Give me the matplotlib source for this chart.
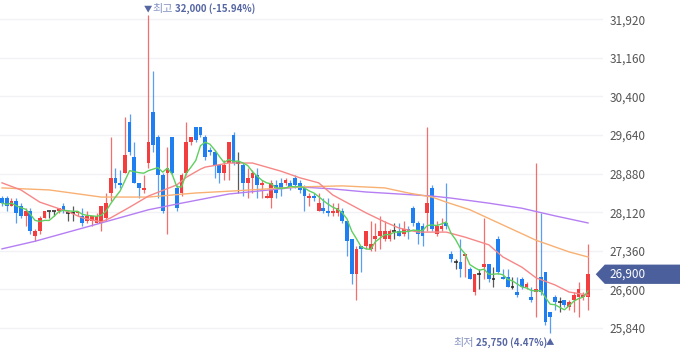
import numpy as np
import pandas as pd
import matplotlib
matplotlib.use('Agg')
import matplotlib.pyplot as plt
import matplotlib.transforms as mtransforms
from matplotlib.patches import Polygon
from matplotlib.ticker import FuncFormatter

plt.rcParams['font.family'] = ['Noto Sans CJK KR', 'DejaVu Sans']

# daily candles (won)
opens = [28400, 28400, 28250, 28350, 28250, 28050, 28150, 27650, 27750, 28000,
         28150, 28150, 28150, 28250, 28100, 28100, 28100, 28050, 27950, 27950,
         27900, 27900, 28000, 28500, 28800, 28700, 28900, 29900, 29200, 28700,
         28550, 29100, 30100, 29600, 28850, 28900, 29600, 28600, 28500, 28900,
         29500, 29800, 29800, 29600, 29350, 29300, 29050, 28900, 29100, 29650,
         29100, 29050, 28700, 28800, 28850, 28650, 28400, 28400, 28650, 28700,
         28700, 28700, 28800, 28700, 28600, 28400, 28450, 28150, 28200, 28150,
         28100, 28100, 28150, 27950, 27600, 26900, 27450, 27450, 27400, 27600,
         27650, 27600, 27600, 27750, 27750, 27700, 27800, 28200, 27900, 27850,
         28100, 28600, 27700, 27800, 27900, 27300, 27150, 27150, 27250, 27000,
         26550, 26900, 27050, 27100, 26800, 27600, 26850, 26850, 26650, 26550,
         26800, 26650, 26450, 26550, 26850, 26950, 26150, 26450, 26350, 26400,
         26250, 26400, 26450, 26450, 26450]
highs = [28450, 28450, 28400, 28400, 28300, 28200, 28200, 27800, 28050, 28150,
         28150, 28150, 28200, 28300, 28150, 28250, 28150, 28200, 28150, 28050,
         28100, 28250, 28500, 29600, 29000, 28950, 30000, 30050, 29500, 28700,
         28850, 32000, 30900, 29650, 28900, 29400, 29600, 28650, 28900, 29900,
         29600, 29800, 29800, 29650, 29400, 29350, 29050, 29150, 29500, 29700,
         29300, 29100, 29000, 28950, 29000, 28750, 28500, 28750, 28750, 28800,
         28800, 28750, 28850, 28750, 28650, 28500, 28500, 28500, 28400, 28400,
         28300, 28300, 28200, 27950, 27600, 27450, 27450, 27750, 27950, 27900,
         28050, 27950, 27800, 27900, 27900, 27950, 27850, 28250, 27950, 27900,
         29800, 28650, 27950, 28000, 28700, 27350, 27200, 27600, 27300, 27050,
         26900, 27000, 28000, 27100, 27050, 27650, 27000, 27000, 26850, 26850,
         26850, 26750, 26650, 29100, 28100, 26950, 26150, 26500, 26450, 26400,
         26400, 26550, 26750, 26550, 27500]
lows = [28250, 28150, 28250, 27900, 28000, 27850, 27700, 27550, 27700, 28000,
        28000, 28050, 28100, 28100, 27950, 27950, 28050, 27850, 27900, 27850,
        27900, 27750, 27950, 28350, 28600, 28600, 28900, 29250, 28700, 28400,
        28500, 29000, 29300, 28400, 28100, 27700, 28850, 28150, 28450, 28850,
        29450, 29500, 29600, 29150, 29250, 28800, 28700, 28750, 28750, 29050,
        28500, 28450, 28400, 28500, 28400, 28400, 28400, 28200, 28400, 28450,
        28650, 28550, 28600, 28500, 28150, 28250, 28350, 28150, 28100, 28050,
        28050, 28050, 27900, 27250, 26700, 26400, 26950, 27400, 27350, 27350,
        27400, 27550, 27550, 27600, 27650, 27650, 27600, 27850, 27500, 27450,
        27750, 27750, 27650, 27750, 27800, 27150, 27000, 26850, 26850, 26800,
        26500, 26600, 26800, 26750, 26650, 26900, 26800, 26650, 26600, 26450,
        26600, 26600, 26350, 26050, 26500, 25900, 25750, 26200, 26150, 26250,
        26200, 26150, 26050, 26400, 26200]
closes = [28300, 28250, 28350, 28100, 28050, 28150, 27750, 27750, 28000, 28150,
          28150, 28150, 28200, 28150, 28100, 28100, 28150, 27900, 28050, 28050,
          28050, 28250, 28300, 28800, 28700, 28650, 29250, 29300, 28700, 28600,
          28600, 29500, 29450, 28850, 28150, 29000, 28900, 28200, 28850, 29500,
          29600, 29550, 29650, 29200, 29300, 29050, 28900, 29050, 29500, 29100,
          29100, 28700, 28800, 28900, 28650, 28700, 28450, 28700, 28500, 28600,
          28750, 28600, 28650, 28550, 28450, 28450, 28400, 28300, 28150, 28100,
          28150, 28200, 27950, 27550, 26900, 27400, 27400, 27750, 27500, 27650,
          27750, 27750, 27750, 27750, 27650, 27800, 27750, 27900, 27700, 27650,
          28300, 27800, 27850, 27850, 27850, 27200, 27150, 27000, 27300, 26800,
          26900, 26900, 27100, 26800, 26800, 26950, 26800, 26650, 26650, 26500,
          26650, 26700, 26400, 26600, 26550, 25950, 26050, 26350, 26350, 26300,
          26350, 26500, 26600, 26500, 26900]

# moving averages read at a few candles
ma20_idx = [0, 4, 8, 14, 17, 21, 23, 27, 31, 37, 39, 42, 43, 48, 53, 56, 59,
            63, 67, 70, 74, 77, 81, 84, 88, 94, 98, 103, 106, 110, 113, 117, 120, 124]
ma20_val = [28700, 28560, 28320, 28130, 28010, 27930, 28010, 28220, 28440, 28660,
            28810, 28970, 29010, 29090, 29090, 29010, 28930, 28800, 28700, 28460,
            28260, 28110, 27930, 27810, 27730, 27730, 27630, 27480, 27240, 27040,
            26830, 26690, 26550, 26490]
ma60_idx = [0, 10, 21, 31, 41, 49, 63, 72, 81, 86, 91, 94, 99, 106, 113, 120, 124]
ma60_val = [28600, 28560, 28420, 28420, 28500, 28540, 28620, 28640, 28600, 28500,
            28420, 28320, 28170, 27870, 27570, 27340, 27240]
ma120_idx = [0, 7, 14, 21, 31, 38, 48, 63, 70, 77, 84, 91, 95, 103, 110, 117, 124]
ma120_val = [27400, 27550, 27730, 27910, 28170, 28300, 28480, 28620, 28580, 28520,
             28480, 28440, 28400, 28300, 28200, 28050, 27910]

y_ticks = [25840, 26600, 27360, 28120, 28880, 29640, 30400, 31160, 31920]
last_price = 26900
high_price, high_pct = 32000, -15.94
low_price, low_pct = 25750, 4.47

RED = '#f23e3e'
BLUE = '#1f7ff0'
DOJI = '#222222'
LABEL = '#5566a3'
LABEL_LIGHT = '#8794c2'

df = pd.DataFrame({'open': opens, 'high': highs, 'low': lows, 'close': closes})
df['ma5'] = df['close'].rolling(5, min_periods=1).mean()
x = np.arange(len(df))

up = (df['close'] > df['open']).values
down = (df['close'] < df['open']).values
flat = (df['close'] == df['open']).values
colors = np.where(up, RED, np.where(down, BLUE, DOJI))

fig = plt.figure(figsize=(6.8, 3.58), dpi=100)
ax = fig.add_axes([0, 0, 603 / 680, 1])

# wicks and bodies
ax.vlines(x, df['low'], df['high'], colors=colors, linewidth=0.9, alpha=0.75, zorder=2)
body_low = df[['open', 'close']].min(axis=1)
body_h = (df['close'] - df['open']).abs()
ax.bar(x[~flat], body_h[~flat], bottom=body_low[~flat], width=0.8,
       color=colors[~flat], linewidth=0, zorder=3)
ax.hlines(df['close'][flat], x[flat] - 0.4, x[flat] + 0.4, colors=DOJI, linewidth=1.1, zorder=3)

# moving averages
ax.plot(ma120_idx, ma120_val, color='#b57ef3', linewidth=1.0, zorder=4)
ax.plot(ma60_idx, ma60_val, color='#f9b073', linewidth=1.0, zorder=4)
ax.plot(ma20_idx, ma20_val, color='#f78787', linewidth=1.0, zorder=4)
ax.plot(x, df['ma5'], color='#5fcf5f', linewidth=1.0, zorder=4)

ax.set_xlim(-0.42, 127.17)
ax.set_ylim(25251, 32300)
ax.set_xticks([])
ax.set_yticks(y_ticks)
ax.yaxis.set_major_formatter(FuncFormatter(lambda v, p: f'{int(v):,}'))
ax.tick_params(axis='y', left=False, right=True, labelleft=False, labelright=True,
               length=0, pad=4.5, labelsize=8.5, labelcolor='#555555')
ax.grid(axis='y', color='#f1f1f6', linewidth=1)
ax.set_axisbelow(True)
for s in ax.spines.values():
    s.set_visible(False)

# last price tag
trans = mtransforms.blended_transform_factory(ax.transAxes, ax.transData)
half = 190
tag = Polygon([(0.988, last_price), (1.003, last_price + half), (1.13, last_price + half),
               (1.13, last_price - half), (1.003, last_price - half)],
              closed=True, transform=trans, facecolor='#4a5f9b', edgecolor='none',
              clip_on=False, zorder=6)
ax.add_patch(tag)
ax.text(1.01, last_price, f'{last_price:,}', transform=trans, color='white',
        fontsize=8.5, ha='left', va='center', clip_on=False, zorder=7)

# high / low markers (offsets in pixels -> candle units)
hi_i = int(np.argmax(df['high']))
lo_i = int(np.argmin(df['low']))
px = lambda p: p / 4.726
tx = mtransforms.blended_transform_factory(ax.transData, ax.transAxes)
y_top = 1 - 9 / 358
y_bot = 1 - 343 / 358
ax.text(hi_i - px(0.5), y_top, '▼', transform=tx, color=LABEL, fontsize=6,
        ha='center', va='center')
ax.text(hi_i + px(4), y_top, '최고', transform=tx, color=LABEL_LIGHT, fontsize=8,
        ha='left', va='center')
ax.text(hi_i + px(27), y_top, f'{high_price:,} ({high_pct:.2f}%)', transform=tx,
        color=LABEL, fontsize=7, fontweight='bold', ha='left', va='center')

ax.text(lo_i, y_bot, '▲', transform=tx, color=LABEL, fontsize=6,
        ha='center', va='center')
ax.text(lo_i - px(74), y_bot, f'{low_price:,} ({low_pct:.2f}%)', transform=tx,
        color=LABEL, fontsize=7, fontweight='bold', ha='left', va='center')
ax.text(lo_i - px(97), y_bot, '최저', transform=tx, color=LABEL_LIGHT, fontsize=8,
        ha='left', va='center')

fig.savefig('out.png', dpi=100)
